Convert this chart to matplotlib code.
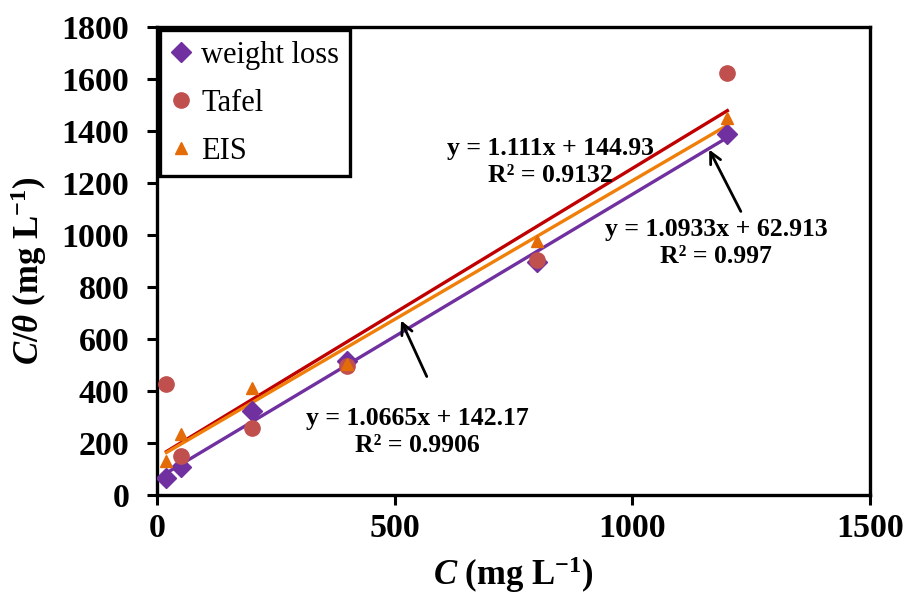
import numpy as np
import matplotlib
matplotlib.use("Agg")
from matplotlib import pyplot as plt

# fuentes tipo Times
plt.rcParams['font.family'] = ['Liberation Serif', 'DejaVu Serif']
plt.rcParams['mathtext.fontset'] = 'custom'
plt.rcParams['mathtext.rm'] = 'Liberation Serif:bold'
plt.rcParams['mathtext.it'] = 'Liberation Serif:italic:bold'
plt.rcParams['mathtext.bf'] = 'Liberation Serif:bold'

# datos
conc = [20, 50, 200, 400, 800, 1200]
weight_loss = [65, 108, 322, 515, 895, 1390]
tafel = [427, 150, 258, 496, 904, 1623]
eis = [131, 235, 412, 505, 977, 1450]

# ajustes lineales (pendiente, intercepto, R2)
fit_wl = (1.0933, 62.913, 0.997)
fit_tafel = (1.111, 144.93, 0.9132)
fit_eis = (1.0665, 142.17, 0.9906)

fig = plt.figure(figsize=(9.1, 5.99), dpi=100)
ax = fig.add_axes([0.1725, 0.1736, 0.7835, 0.7814])

ax.plot(conc, weight_loss, 'D', color='#7030A0', markersize=10, label='weight loss', zorder=3)
ax.plot(conc, tafel, 'o', color='#C0504D', markersize=11, label='Tafel', zorder=3)
ax.plot(conc, eis, '^', color='#E36C09', markersize=9, label='EIS', zorder=3)

# lineas de tendencia
xl = np.array([min(conc), max(conc)])
ax.plot(xl, fit_tafel[0]*xl + fit_tafel[1], color='#C00000', lw=2.4, zorder=2)
ax.plot(xl, fit_eis[0]*xl + fit_eis[1], color='#F07F09', lw=2.4, zorder=2)
ax.plot(xl, fit_wl[0]*xl + fit_wl[1], color='#7030A0', lw=2.4, zorder=2)

def eq(fit):
    return "y = %sx + %s\nR² = %s" % (fit[0], fit[1], fit[2])

tkw = dict(fontsize=18.5, fontweight='bold', ha='center', va='center', linespacing=1.2)
ax.text(827, 1281, eq(fit_tafel), **tkw)
ax.text(1176, 969, eq(fit_wl), **tkw)
ax.text(547, 242, eq(fit_eis), **tkw)

akw = dict(arrowstyle='->', color='black', lw=2, mutation_scale=20)
ax.annotate('', xy=(511, 681), xytext=(570, 446), arrowprops=akw)
ax.annotate('', xy=(1159, 1338), xytext=(1231, 1081), arrowprops=akw)

ax.set_xlim(0, 1500)
ax.set_ylim(0, 1800)
ax.set_xticks([0, 500, 1000, 1500])
ax.set_yticks(range(0, 1801, 200))

for s in ax.spines.values():
    s.set_linewidth(2.4)
ax.tick_params(width=2.2, length=7, labelsize=24.5)
ax.tick_params(axis='x', pad=6)
ax.tick_params(axis='y', pad=13)
for lab in ax.get_xticklabels() + ax.get_yticklabels():
    lab.set_fontweight('bold')

ax.set_xlabel(r'$C$ (mg L$^{\mathbf{-1}}$)', fontsize=25, fontweight='bold', va='center')
ax.xaxis.set_label_coords(0.5, -0.17)
ax.set_ylabel(r'$C/\theta$ (mg L$^{\mathbf{-1}}$)', fontsize=25, fontweight='bold', va='center')
ax.yaxis.set_label_coords(-0.18, 0.48)

leg = ax.legend(loc='upper left', fontsize=22, handlelength=0.7, handletextpad=0.3,
                borderpad=0.35, labelspacing=0.62, fancybox=False, framealpha=1,
                borderaxespad=0.1)
leg.get_frame().set_edgecolor('black')
leg.get_frame().set_linewidth(2.4)

fig.savefig('out.png', dpi=100)
